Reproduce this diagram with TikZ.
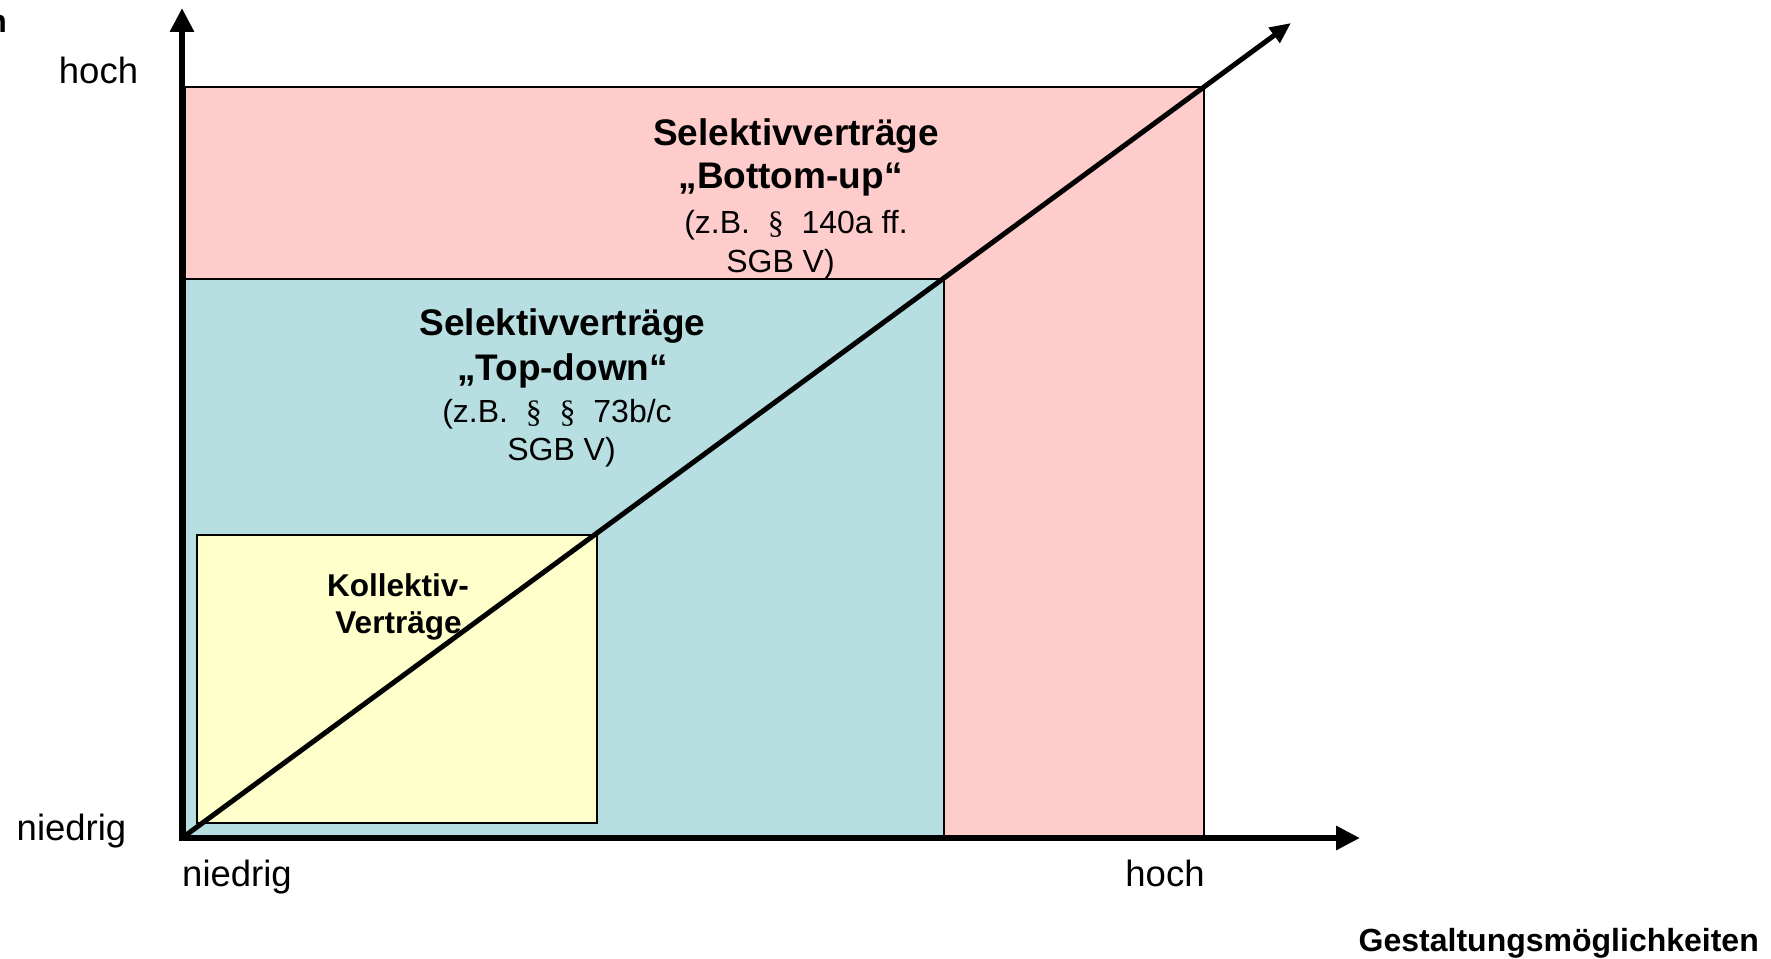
\documentclass[tikz,border=0pt]{standalone}
\usepackage{fontspec}
\setmainfont{Liberation Sans}
\newfontfamily\secfont{Liberation Serif}
\usetikzlibrary{arrows.meta}
\definecolor{pinkc}{HTML}{FFCCCC}
\definecolor{bluec}{HTML}{B7DFE2}
\definecolor{yellowc}{HTML}{FFFFCC}
\begin{document}
\begin{tikzpicture}[x=1pt,y=-1pt,
  box/.style={draw=black, line width=1.5pt},
  axisline/.style={line width=6pt, -{Triangle[length=24pt,width=23pt]}},
  diagline/.style={line width=5pt, -{Triangle[length=21pt,width=18pt]}},
  lbl/.style={inner sep=0pt, anchor=base, font=\fontsize{36.5}{44}\selectfont},
  headtxt/.style={inner sep=0pt, anchor=base, font=\fontsize{37}{44}\selectfont\bfseries},
  subtxt/.style={inner sep=0pt, anchor=base, font=\fontsize{32}{40}\selectfont},
  smallhead/.style={inner sep=0pt, anchor=base, font=\fontsize{31.5}{38}\selectfont\bfseries},
  axtitle/.style={inner sep=0pt, font=\fontsize{32}{38}\selectfont\bfseries}]
\useasboundingbox (0,0) rectangle (1771,958);
% regions
\filldraw[box, fill=pinkc] (185,87) rectangle (1204,838);
\filldraw[box, fill=bluec] (185,279) rectangle (944,838);
\filldraw[box, fill=yellowc] (197,535) rectangle (597,823);
% texts in regions
\node[headtxt] (p1) at (796,145) {Selektivverträge};
\node[headtxt] (p2) at (790.5,188) {„Bottom-up“};
\node[subtxt] (p3) at (796,233) {(z.B.\ \ {\secfont §}\ \ 140a ff.};
\node[subtxt] (p4) at (780.5,272) {SGB V)};
\node[headtxt] (b1) at (562.5,335) {Selektivverträge};
\node[headtxt] (b2) at (562.5,380) {„Top-down“};
\node[subtxt] (b3) at (557,422) {(z.B.\ \ {\secfont §}\ \ {\secfont §}\ \ 73b/c};
\node[subtxt] (b4) at (561.5,460) {SGB V)};
\node[smallhead] (k1) at (398,596) {Kollektiv-};
\node[smallhead] (k2) at (398.5,633) {Verträge};
% axes
\coordinate (O) at (182,838);
\coordinate (ytip) at (182,8);
\coordinate (xtip) at (1360,838);
\coordinate (dtip) at (1291,23);
\draw[diagline] (O) -- (dtip);
\draw[axisline] ([yshift=3pt]O) -- (ytip);
\draw[axisline] ([xshift=-3pt]O) -- (xtip);
% axis labels
\node[lbl] (yhigh) at (98.5,83) {hoch};
\node[lbl] (ylow) at (71.5,840) {niedrig};
\node[lbl] (xlow) at (237,886) {niedrig};
\node[lbl] (xhigh) at (1165,886) {hoch};
\node[axtitle, anchor=base east] (xtitle) at (1759,951) {Gestaltungsmöglichkeiten};
\node[axtitle, anchor=base east] (ytitle) at (7,33) {n};
\end{tikzpicture}
\end{document}
